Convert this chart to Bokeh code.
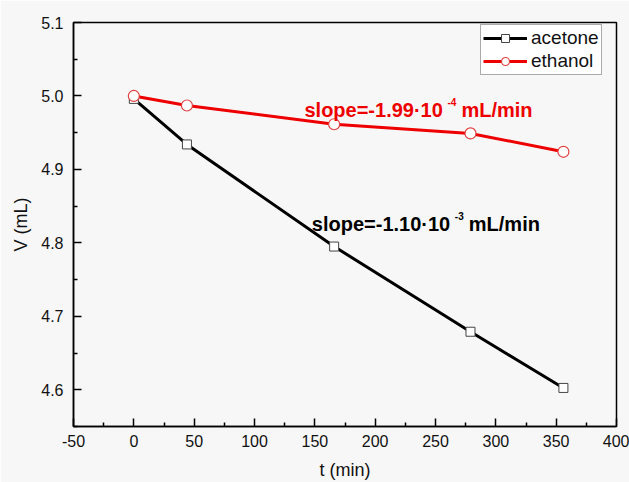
from bokeh.plotting import figure
from bokeh.models import (FixedTicker, PrintfTickFormatter, Label, Legend, LegendItem,
                          ColumnDataSource)
from bokeh.embed import file_html
from bokeh.resources import INLINE

# ---- data ----
t_acetone = [0, 44, 166, 279, 356]
v_acetone = [4.996, 4.934, 4.795, 4.679, 4.6025]
t_ethanol = [0, 44, 166, 279, 356]
v_ethanol = [5.000, 4.987, 4.9615, 4.949, 4.924]

x_major = [-50, 0, 50, 100, 150, 200, 250, 300, 350, 400]
x_minor = [-25, 25, 75, 125, 175, 225, 275, 325, 375]
y_major = [4.6, 4.7, 4.8, 4.9, 5.0, 5.1]
y_minor = [4.55, 4.65, 4.75, 4.85, 4.95, 5.05]

FONT = "Liberation Sans"
BG = "#f7f7f7"

p = figure(width=629, height=482, x_range=(-50, 400), y_range=(4.55, 5.1),
           output_backend="svg", toolbar_location=None,
           min_border_left=73, min_border_right=13, min_border_top=22, min_border_bottom=55)
p.background_fill_color = BG
p.border_fill_color = BG
p.outline_line_color = "black"
p.outline_line_width = 1.5
p.grid.visible = False

for ax in (p.xaxis[0], p.yaxis[0]):
    ax.axis_line_width = 1.5
    ax.major_tick_out = 0
    ax.major_tick_in = 8
    ax.minor_tick_out = 0
    ax.minor_tick_in = 4
    ax.major_tick_line_width = 1.5
    ax.minor_tick_line_width = 1.5
    ax.major_label_text_font = FONT
    ax.major_label_text_font_size = "16px"
    ax.major_label_text_color = "#111111"
    ax.axis_label_text_font = FONT
    ax.axis_label_text_font_size = "18px"
    ax.axis_label_text_font_style = "normal"
    ax.axis_label_text_color = "#111111"

p.xaxis[0].ticker = FixedTicker(ticks=x_major, minor_ticks=x_minor)
p.yaxis[0].ticker = FixedTicker(ticks=y_major, minor_ticks=y_minor)
p.xaxis[0].formatter = PrintfTickFormatter(format="%d")
p.yaxis[0].formatter = PrintfTickFormatter(format="%.1f")
p.xaxis[0].axis_label = "t (min)"
p.yaxis[0].axis_label = "V (mL)"
p.xaxis[0].major_label_standoff = 8
p.xaxis[0].axis_label_standoff = 10
p.yaxis[0].major_label_standoff = 10
p.yaxis[0].axis_label_standoff = 7

src_a = ColumnDataSource(dict(t=t_acetone, v=v_acetone))
src_e = ColumnDataSource(dict(t=t_ethanol, v=v_ethanol))

la = p.line("t", "v", source=src_a, line_color="black", line_width=3)
ma = p.scatter("t", "v", source=src_a, marker="square", size=9, fill_color="white",
               line_color="#444444", line_width=1)
le = p.line("t", "v", source=src_e, line_color="#ee0000", line_width=3)
me = p.scatter("t", "v", source=src_e, marker="circle", size=11, fill_color="white",
               line_color="#e04040", line_width=1.2)

legend = Legend(items=[LegendItem(label="acetone", renderers=[la, ma]),
                       LegendItem(label="ethanol", renderers=[le, me])],
                location=(407, 351), margin=0, padding=2, spacing=1,
                glyph_width=44, glyph_height=20, label_height=20, label_standoff=4,
                label_text_font=FONT, label_text_font_size="19px",
                label_text_color="#111111",
                border_line_color="#555555", border_line_width=1,
                background_fill_color="white", background_fill_alpha=1)
p.add_layout(legend)

# ---- slope annotations ----
def slope_label(x, y, main, sup, unit, color):
    p.add_layout(Label(x=x, y=y, text=main, text_color=color, text_font=FONT,
                       text_font_size="20px", text_font_style="bold",
                       text_baseline="alphabetic"))
    p.add_layout(Label(x=x, y=y, x_offset=143, y_offset=8, text=sup, text_color=color,
                       text_font=FONT, text_font_size="10px", text_font_style="bold",
                       text_baseline="alphabetic"))
    p.add_layout(Label(x=x, y=y, x_offset=157, text=unit, text_color=color,
                       text_font=FONT, text_font_size="20px", text_font_style="bold",
                       text_baseline="alphabetic"))

slope_label(141.4, 4.9807, "slope=-1.99\u00b710", "-4", "mL/min", "#ee0000")
slope_label(147.5, 4.8255, "slope=-1.10\u00b710", "-3", "mL/min", "black")

open("out.html", "w").write(file_html(p, INLINE))
